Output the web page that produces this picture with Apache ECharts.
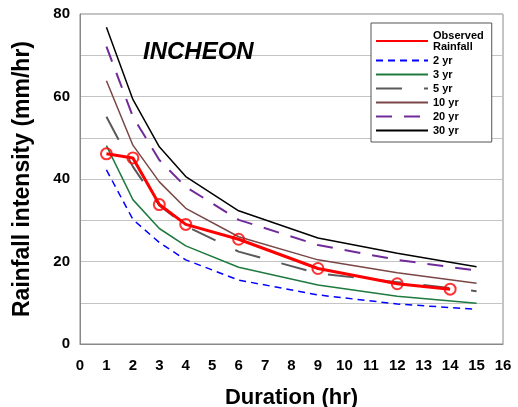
<!DOCTYPE html>
<html>
<head>
<meta charset="utf-8">
<title>Incheon IDF</title>
<script src="https://cdn.jsdelivr.net/npm/echarts@6/dist/echarts.min.js"></script>
<style>
  html, body { margin: 0; padding: 0; background: #fff; }
  #main { width: 518px; height: 407px; }
</style>
</head>
<body>
<div id="main"></div>
<script>
// durations (hr)
var durations = [1, 2, 3, 4, 6, 9, 12, 15];
var obsDurations = [1, 2, 3, 4, 6, 9, 12, 14];

// observed rainfall (mm/hr)
var observed = [46.1, 45.1, 33.8, 29.0, 25.4, 18.3, 14.6, 13.3];

// return period curves (mm/hr)
var yr2 = [42.2, 30.2, 24.6, 20.4, 15.5, 11.9, 9.7, 8.4];
var yr3 = [48.1, 35.0, 28.0, 23.8, 18.6, 14.3, 11.6, 9.9];
var yr5 = [55.1, 43.0, 33.6, 28.6, 22.4, 17.1, 15.0, 12.8];
var yr10 = [63.8, 48.2, 39.3, 32.9, 26.0, 20.4, 17.3, 14.7];
var yr20 = [72.1, 55.1, 44.6, 38.1, 30.1, 24.0, 20.4, 17.8];
var yr30 = [76.8, 59.3, 47.8, 40.6, 32.3, 25.7, 22.0, 18.7];

var legendNames = ['Observed\nRainfall', '2 yr', '3 yr', '5 yr', '10 yr', '20 yr', '30 yr'];

function pairs(xs, ys) {
  return xs.map(function (x, i) { return [x, ys[i]]; });
}

var chart = echarts.init(document.getElementById('main'));

function curve(name, data, color, width, type) {
  return {
    name: name,
    type: 'line',
    data: pairs(durations, data),
    symbol: 'none',
    lineStyle: { color: color, width: width, type: type },
    itemStyle: { color: color },
    z: 2
  };
}

chart.setOption({
  animation: false,
  title: {
    text: 'INCHEON',
    left: 138,
    top: 35,
    textStyle: { fontFamily: 'Liberation Sans', fontStyle: 'italic', fontWeight: 'bold', fontSize: 24, color: '#000' }
  },
  grid: {
    left: 80, right: 15, top: 14, bottom: 63,
    outerBoundsMode: 'none',
    show: true, borderColor: '#888', borderWidth: 1
  },
  legend: {
    orient: 'vertical',
    left: 371,
    top: 23,
    padding: [7, 8, 6, 4],
    borderColor: '#555',
    borderWidth: 1,
    backgroundColor: '#fff',
    itemWidth: 52,
    itemHeight: 8,
    itemGap: 3,
    itemStyle: { opacity: 0 },
    textStyle: { fontFamily: 'Liberation Sans', fontWeight: 'bold', fontSize: 11, color: '#000', lineHeight: 11 },
    data: legendNames
  },
  xAxis: {
    type: 'value',
    min: 0, max: 16, interval: 1,
    axisLine: { show: true, lineStyle: { color: '#888' } },
    axisTick: { show: false },
    splitLine: { show: false },
    axisLabel: { fontFamily: 'Liberation Sans', fontWeight: 'bold', fontSize: 15, color: '#000', margin: 14 },
    name: 'Duration (hr)',
    nameLocation: 'middle',
    nameGap: 43,
    nameTextStyle: { fontFamily: 'Liberation Sans', fontWeight: 'bold', fontSize: 22, color: '#000' }
  },
  yAxis: {
    type: 'value',
    min: 0, max: 80, interval: 10,
    axisLine: { show: true, lineStyle: { color: '#888' } },
    axisTick: { show: false },
    splitLine: { lineStyle: { color: '#c4c4c4' } },
    axisLabel: {
      fontFamily: 'Liberation Sans', fontWeight: 'bold', fontSize: 15, color: '#000', margin: 10,
      formatter: function (v) { return v % 20 === 0 ? v : ''; }
    },
    name: 'Rainfall intensity (mm/hr)',
    nameLocation: 'middle',
    nameGap: 46,
    nameTextStyle: { fontFamily: 'Liberation Sans', fontWeight: 'bold', fontSize: 23, color: '#000' }
  },
  series: [
    {
      name: legendNames[0],
      type: 'line',
      data: pairs(obsDurations, observed),
      symbol: 'none',
      lineStyle: { color: '#ff0000', width: 3 },
      itemStyle: { color: '#ff0000' },
      z: 5
    },
    {
      name: 'obs-points',
      type: 'scatter',
      data: pairs(obsDurations, observed),
      symbol: 'circle',
      symbolSize: 11,
      itemStyle: { color: 'rgba(255,255,255,0)', borderColor: '#ff0000', borderWidth: 2 },
      z: 6
    },
    curve(legendNames[1], yr2, '#0000ff', 1.5, [7, 5]),
    curve(legendNames[2], yr3, '#1e7a3e', 1.5, 'solid'),
    curve(legendNames[3], yr5, '#595959', 2, [26, 22]),
    curve(legendNames[4], yr10, '#7a4646', 1.5, 'solid'),
    curve(legendNames[5], yr20, '#702a9a', 2, [16, 12]),
    curve(legendNames[6], yr30, '#000000', 1.5, 'solid')
  ]
});
</script>
</body>
</html>
